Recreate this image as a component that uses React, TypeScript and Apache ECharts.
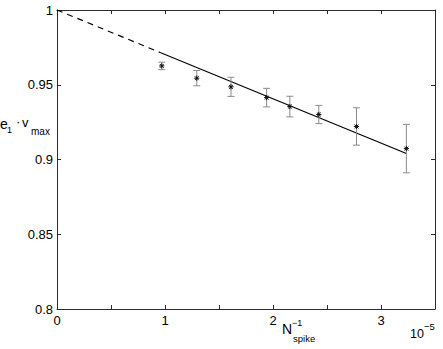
import React, { useEffect, useRef } from "react";
import * as echarts from "echarts";

// N_spike^-1 (x 1e-5), e1·vmax mean, and error half-widths
const xVals = [0.97, 1.294, 1.611, 1.941, 2.156, 2.424, 2.773, 3.235];
const yVals = [0.9626, 0.9544, 0.9486, 0.9414, 0.9354, 0.9301, 0.9221, 0.9073];
const errVals = [0.0025, 0.0051, 0.0064, 0.0062, 0.0069, 0.0061, 0.0125, 0.0162];

// fitted line: solid over the data range, dashed extrapolation to 0
const fitSolidX = [0.955, 3.235];
const fitSolidY = [0.9716, 0.904];
const fitDashX = [0, 0.955];
const fitDashY = [1.0, 0.9716];

const yTicks = ["0.8", "0.85", "0.9", "0.95", "1"];
const xTicks = ["0", "1", "2", "3"];

const FONT = "Liberation Sans, Arial, Helvetica, sans-serif";
const AXIS = "#2b2b2b";

export default function App() {
  const ref = useRef<HTMLDivElement>(null);
  useEffect(() => {
    if (!ref.current) return;
    const chart = echarts.init(ref.current, null, { renderer: "svg" });
    const pts = xVals.map((x, i) => [x, yVals[i], errVals[i]]);
    const xLabel = (v: number) => {
      const s = String(Math.round(v * 100) / 100);
      return xTicks.includes(s) ? s : "";
    };
    const yLabel = (v: number) => {
      const s = String(Math.round(v * 1000) / 1000);
      return yTicks.includes(s) ? s : "";
    };
    const baseX = {
      type: "value" as const,
      min: 0,
      max: 3.5,
      interval: 0.5,
      splitLine: { show: false },
      axisLine: { show: true, onZero: false, lineStyle: { color: AXIS, width: 1 } },
      axisTick: { show: true, inside: true, length: 4, lineStyle: { color: AXIS } },
    };
    const baseY = {
      type: "value" as const,
      min: 0.8,
      max: 1,
      interval: 0.05,
      splitLine: { show: false },
      axisLine: { show: true, onZero: false, lineStyle: { color: AXIS, width: 1 } },
      axisTick: { show: true, inside: true, length: 4, lineStyle: { color: AXIS } },
    };
    chart.setOption({
      animation: false,
      backgroundColor: "#fff",
      grid: { left: 57, right: 8, top: 10, bottom: 40, containLabel: false },
      xAxis: [
        {
          ...baseX,
          position: "bottom",
          axisLabel: { formatter: xLabel, margin: 5, fontSize: 13, color: "#000", fontFamily: FONT },
        },
        { ...baseX, position: "top", axisLabel: { show: false } },
      ],
      yAxis: [
        {
          ...baseY,
          position: "left",
          axisLabel: { formatter: yLabel, margin: 4, fontSize: 13, color: "#000", fontFamily: FONT },
        },
        { ...baseY, position: "right", axisLabel: { show: false } },
      ],
      series: [
        {
          type: "line",
          data: fitDashX.map((x, i) => [x, fitDashY[i]]),
          symbol: "none",
          lineStyle: { color: "#000", width: 1.2, type: [6, 5] },
          z: 2,
        },
        {
          type: "line",
          data: fitSolidX.map((x, i) => [x, fitSolidY[i]]),
          symbol: "none",
          lineStyle: { color: "#000", width: 1.2 },
          z: 2,
        },
        {
          type: "custom",
          data: pts,
          z: 3,
          renderItem: (params: any, api: any) => {
            const x = api.value(0);
            const y = api.value(1);
            const e = api.value(2);
            const c = api.coord([x, y]);
            const lo = api.coord([x, y - e]);
            const hi = api.coord([x, y + e]);
            const cw = 3.5;
            const r = 2.6;
            const gray = { stroke: "#8a8a8a", lineWidth: 1 };
            const dark = { stroke: "#111", lineWidth: 1 };
            return {
              type: "group",
              children: [
                { type: "line", shape: { x1: c[0], y1: lo[1], x2: c[0], y2: hi[1] }, style: gray },
                { type: "line", shape: { x1: c[0] - cw, y1: lo[1], x2: c[0] + cw, y2: lo[1] }, style: gray },
                { type: "line", shape: { x1: c[0] - cw, y1: hi[1], x2: c[0] + cw, y2: hi[1] }, style: gray },
                { type: "line", shape: { x1: c[0] - r, y1: c[1], x2: c[0] + r, y2: c[1] }, style: dark },
                { type: "line", shape: { x1: c[0], y1: c[1] - r, x2: c[0], y2: c[1] + r }, style: dark },
                { type: "line", shape: { x1: c[0] - r * 0.75, y1: c[1] - r * 0.75, x2: c[0] + r * 0.75, y2: c[1] + r * 0.75 }, style: dark },
                { type: "line", shape: { x1: c[0] - r * 0.75, y1: c[1] + r * 0.75, x2: c[0] + r * 0.75, y2: c[1] - r * 0.75 }, style: dark },
              ],
            };
          },
        },
      ],
      graphic: [
        // y-axis label: e_1 · v_max
        { type: "text", left: 0, top: 117, style: { text: "e", fontSize: 14, fill: "#000", fontFamily: FONT } },
        { type: "text", left: 7, top: 125, style: { text: "1", fontSize: 9, fill: "#000", fontFamily: FONT } },
        { type: "text", left: 16, top: 115, style: { text: "·", fontSize: 13, fill: "#000", fontFamily: FONT } },
        { type: "text", left: 22, top: 116, style: { text: "v", fontSize: 13, fill: "#000", fontFamily: FONT } },
        { type: "text", left: 31, top: 126, style: { text: "max", fontSize: 10, fill: "#000", fontFamily: FONT } },
        // x-axis label: N_spike^-1
        { type: "text", left: 282, top: 322, style: { text: "N", fontSize: 14, fill: "#000", fontFamily: FONT } },
        { type: "text", left: 292, top: 318, style: { text: "−1", fontSize: 9, fill: "#000", fontFamily: FONT } },
        { type: "text", left: 293, top: 333, style: { text: "spike", fontSize: 9.5, fill: "#000", fontFamily: FONT } },
        // scale factor 10^-5
        { type: "text", left: 410, top: 327, style: { text: "10", fontSize: 12.5, fill: "#000", fontFamily: FONT } },
        { type: "text", left: 424, top: 321, style: { text: "−5", fontSize: 9.5, fill: "#000", fontFamily: FONT } },
      ],
    });
    return () => chart.dispose();
  }, []);
  return <div ref={ref} style={{ width: 443, height: 349, position: "absolute", left: 0, top: 0 }} />;
}
